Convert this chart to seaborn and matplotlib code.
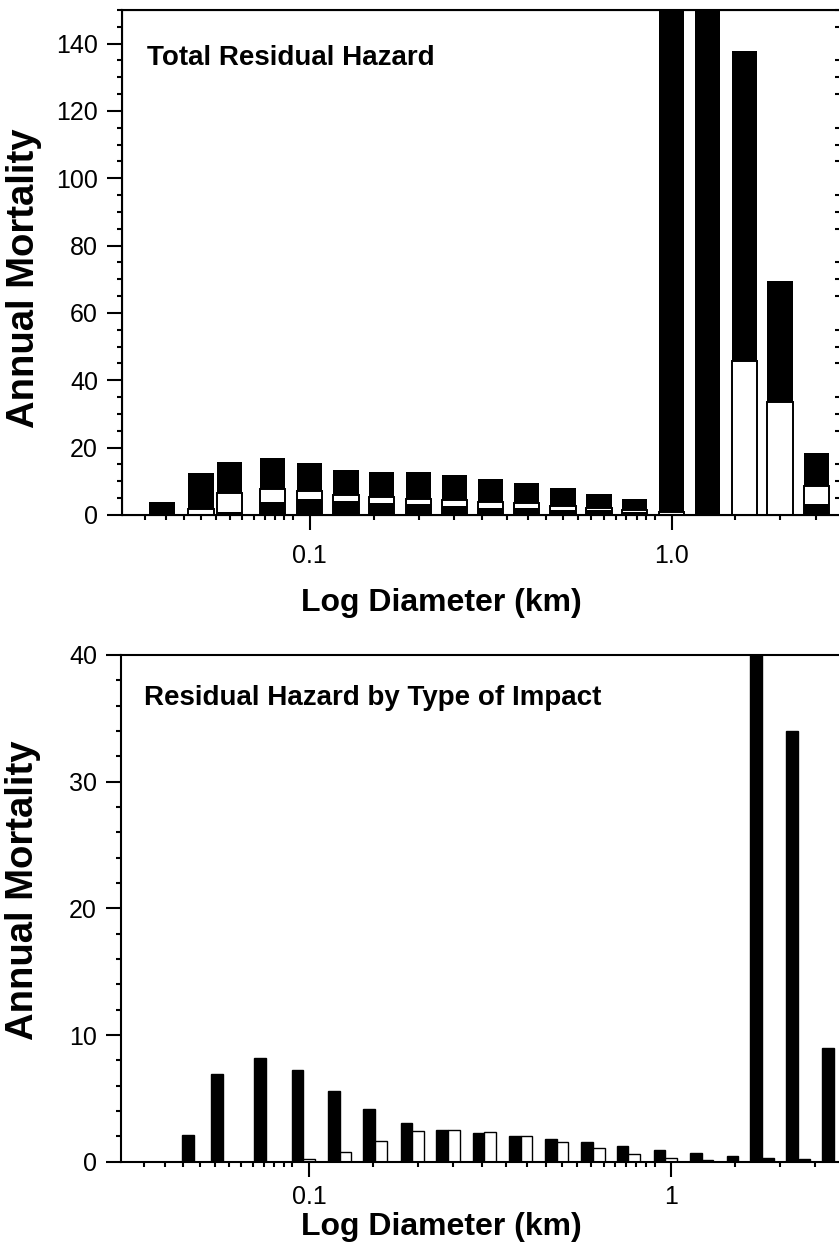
import matplotlib
matplotlib.use("Agg")
import matplotlib.pyplot as plt
import numpy as np
import pandas as pd
import seaborn as sns
from matplotlib.ticker import FixedLocator, FixedFormatter, MultipleLocator, NullFormatter

# bin centres (km)
diameter = [0.039, 0.050, 0.060, 0.079, 0.100, 0.126, 0.158, 0.200, 0.251, 0.316,
            0.398, 0.501, 0.630, 0.790, 1.000, 1.259, 1.589, 1.995, 2.512]

# top panel: full black bar, white band top, black base
total_hazard = [3.8, 12.4, 15.7, 16.8, 15.3, 13.3, 12.8, 12.8, 12.0, 10.7,
                9.5, 8.0, 6.2, 4.65, 200.0, 175.0, 137.7, 69.5, 18.3]
white_top = [0.0, 1.8, 6.4, 7.6, 7.0, 5.85, 5.25, 4.85, 4.45, 3.95,
             3.5, 2.7, 2.2, 1.5, 0.8, 0.0, 45.6, 33.7, 8.6]
black_base = [0.0, 0.3, 1.0, 3.9, 4.75, 4.25, 3.65, 3.2, 2.6, 2.1,
              2.0, 1.6, 1.4, 1.0, 0.0, 0.0, 0.0, 0.0, 3.2]

# bottom panel: three impact types (black, white, black)
impact_a = [0.0, 2.1, 6.95, 8.15, 7.25, 5.6, 4.15, 3.07, 2.5, 2.25,
            2.03, 1.8, 1.55, 1.25, 0.93, 0.7, 0.45, 0.3, 0.2]
impact_b = [0.0, 0.0, 0.0, 0.0, 0.2, 0.78, 1.6, 2.43, 2.5, 2.35,
            2.0, 1.57, 1.1, 0.6, 0.3, 0.15, 0.0, 0.0, 0.0]
impact_c = [0.0, 0.0, 0.0, 0.0, 0.0, 0.0, 0.0, 0.0, 0.0, 0.0,
            0.0, 0.0, 0.0, 0.0, 0.0, 0.0, 45.6, 34.0, 9.0]
impact_levels = ["a", "b", "c"]

minor_x = [0.035, 0.04, 0.045, 0.05, 0.055, 0.06, 0.065, 0.07, 0.075, 0.08, 0.085, 0.09,
           0.15, 0.2, 0.25, 0.3, 0.35, 0.4, 0.45, 0.5, 0.55, 0.6, 0.65, 0.7, 0.75, 0.8,
           0.85, 0.9, 1.5, 2.0, 2.5]

sns.set_style("ticks")
plt.rcParams["font.family"] = ["Liberation Sans", "DejaVu Sans"]
for key in ["text.color", "axes.labelcolor", "xtick.color", "ytick.color", "axes.edgecolor"]:
    plt.rcParams[key] = "black"

W, H = 839, 1258
fig = plt.figure(figsize=(W / 100, H / 100), dpi=100)


def px_axes(left, top, right, bottom):
    return fig.add_axes([left / W, 1 - bottom / H, (right - left) / W, (bottom - top) / H])


ax1 = px_axes(121.7, 10, 841, 515)
ax2 = px_axes(120.7, 655, 841, 1161.7)

nat = np.min(np.diff(np.log10(diameter)))

# top panel, bars overlaid
for vals, colr, lw in [(total_hazard, "black", 0), (white_top, "white", 1.4),
                       (black_base, "black", 0)]:
    sns.barplot(x=diameter, y=vals, orient="x", native_scale=True, log_scale=(True, False),
                width=0.070 / nat, color=colr, saturation=1, edgecolor="black",
                linewidth=lw, errorbar=None, ax=ax1)

# bottom panel, dodged by impact type
df = pd.DataFrame({
    "diameter": diameter * 3,
    "mortality": impact_a + impact_b + impact_c,
    "impact": sum([[k] * len(diameter) for k in impact_levels], []),
})
sns.barplot(data=df, x="diameter", y="mortality", hue="impact", hue_order=impact_levels,
            palette={"a": "black", "b": "white", "c": "black"}, orient="x",
            native_scale=True, log_scale=(True, False), width=0.097 / nat, saturation=1,
            edgecolor="black", linewidth=1, errorbar=None, legend=False, ax=ax2)

for ax, top, major, minor, xlabels, xpad in [(ax1, 150, 20, 5, ["0.1", "1.0"], 10),
                                             (ax2, 40, 10, 2, ["0.1", "1"], 6)]:
    ax.set_xlim(0.0302, 2.94)
    ax.set_ylim(0, top)
    ax.xaxis.set_major_locator(FixedLocator([0.1, 1.0]))
    ax.xaxis.set_major_formatter(FixedFormatter(xlabels))
    ax.xaxis.set_minor_locator(FixedLocator(minor_x))
    ax.xaxis.set_minor_formatter(NullFormatter())
    ax.yaxis.set_major_locator(MultipleLocator(major))
    ax.yaxis.set_minor_locator(MultipleLocator(minor))
    for s in ax.spines.values():
        s.set_linewidth(1.5)
    ax.tick_params(which="major", length=11, width=1.5, labelsize=18, pad=6,
                   direction="out", top=False, right=False)
    ax.tick_params(axis="x", which="major", pad=xpad)
    ax.tick_params(which="minor", length=3.6, width=1.5, direction="out",
                   top=False, right=False)
    ax.set_xlabel("Log Diameter (km)", fontsize=23, fontweight="bold")
    ax.set_ylabel("Annual Mortality", fontsize=27.5, fontweight="bold")

ax1.xaxis.set_label_coords(0.445, -0.145)
ax2.xaxis.set_label_coords(0.445, -0.1)
ax1.yaxis.set_label_coords(-0.111, 0.469)
ax2.yaxis.set_label_coords(-0.111, 0.536)

ax1.text(0.0348, 0.891, "Total Residual Hazard", transform=ax1.transAxes,
         fontsize=20, fontweight="bold", va="baseline")
ax2.text(0.0328, 0.9013, "Residual Hazard by Type of Impact", transform=ax2.transAxes,
         fontsize=20, fontweight="bold", va="baseline")

# small inward ticks on the right of the top panel
tw = ax1.twinx()
tw.set_ylim(0, 150)
tw.yaxis.set_major_locator(MultipleLocator(20))
tw.yaxis.set_minor_locator(MultipleLocator(5))
tw.tick_params(axis="y", which="major", length=0, labelright=False)
tw.tick_params(axis="y", which="minor", direction="in", length=4, width=1.5)

fig.savefig("out.png", dpi=100)
